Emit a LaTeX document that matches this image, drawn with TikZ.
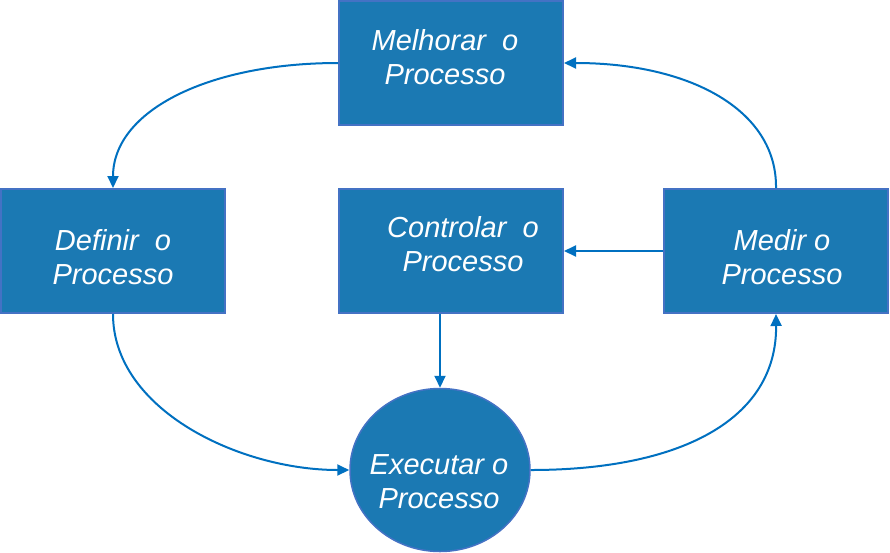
\documentclass[tikz,border=0pt]{standalone}
\usepackage{fontspec}
\setmainfont{Liberation Sans}
\usetikzlibrary{arrows.meta,shapes.geometric}
\definecolor{boxfill}{RGB}{27,121,179}
\definecolor{boxline}{RGB}{68,114,196}
\definecolor{arrowc}{RGB}{0,112,192}
\begin{document}
\begin{tikzpicture}[x=1pt,y=-1pt,
  procbox/.style={draw=boxline,line width=2pt,fill=boxfill,minimum width=224pt,minimum height=124pt,inner sep=0pt,text=white,font=\fontsize{29}{34}\selectfont\itshape,align=center},
  procell/.style={ellipse,draw=boxline,line width=1.5pt,fill=boxfill,minimum width=180pt,minimum height=163pt,inner sep=0pt,text=white,font=\fontsize{29}{34}\selectfont\itshape,align=center},
  lbl/.style={text=white,font=\fontsize{29}{34}\selectfont\itshape,align=center},
  conn/.style={draw=arrowc,line width=2pt,-{Triangle[length=12pt,width=11pt]}}]
\useasboundingbox (0,0) rectangle (890,552);
\node[procbox] (mel) at (451,63) {};
\node[procbox] (def) at (113,251) {};
\node[procbox] (con) at (451,251) {};
\node[procbox] (med) at (776,251) {};
\node[procell] (exe) at (440,470) {};
\node[lbl] (tmel) at (445,57) {Melhorar\ \ o\\Processo};
\node[lbl] (tdef) at (113,257) {Definir\ \ o\\Processo};
\node[lbl] (tcon) at (463,244) {Controlar\ \ o\\Processo};
\node[lbl] (tmed) at (782,257) {Medir o\\Processo};
\node[lbl] (texe) at (439,482) {Executar o\\Processo};
\draw[conn] (mel.west) .. controls (210,63) and (113,110) .. (def.north);
\draw[conn] (med.north) .. controls (777,110) and (690,63) .. (mel.east);
\draw[conn] (med.west) -- (con.east);
\draw[conn] (con.south -| exe.north) -- (exe.north);
\draw[conn] (def.south) .. controls (113,410) and (240,470) .. (exe.west);
\draw[conn] (exe.east) .. controls (680,470) and (777,420) .. (med.south);
\end{tikzpicture}
\end{document}
